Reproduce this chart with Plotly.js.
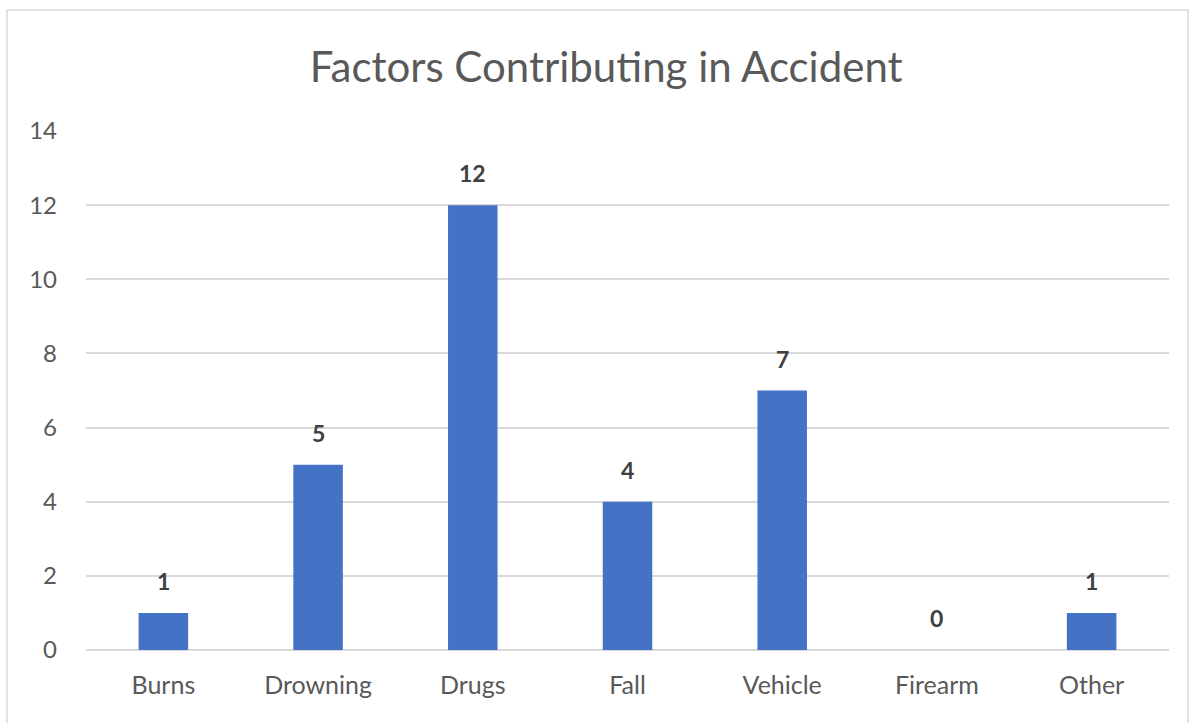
<!DOCTYPE html>
<html>
<head>
<meta charset="utf-8">
<script src="https://cdn.plot.ly/plotly-3.0.1.min.js"></script>
<style>
html,body{margin:0;padding:0;background:#fff;}
#chart{width:1198px;height:723px;}
</style>
</head>
<body>
<div id="chart"></div>
<script>
const categories = ["Burns", "Drowning", "Drugs", "Fall", "Vehicle", "Firearm", "Other"];
const counts = [1, 5, 12, 4, 7, 0, 1];
const chartTitle = "Factors Contributing in Accident";

const FONT = "Lato, 'Open Sans', sans-serif";

const trace = {
  type: "bar",
  x: categories,
  y: counts,
  marker: {color: "#4472C4"},
  hoverinfo: "x+y"
};

const annotations = categories.map((c, i) => ({
  x: c, y: counts[i], xref: "x", yref: "y",
  text: "<b>" + counts[i] + "</b>",
  showarrow: false, yanchor: "bottom", yshift: 16,
  font: {family: FONT, size: 23, color: "#404040"}
}));

const layout = {
  width: 1198, height: 723,
  margin: {l: 86, r: 29, t: 131, b: 73},
  paper_bgcolor: "#ffffff", plot_bgcolor: "#ffffff",
  title: {text: chartTitle, x: 0.506, xanchor: "center", y: 0.907, yanchor: "middle",
          font: {family: FONT, size: 42, color: "#595959"}},
  bargap: 0.68,
  showlegend: false,
  xaxis: {type: "category", showgrid: false, zeroline: false, showline: false,
          tickfont: {family: FONT, size: 25, color: "#595959"},
          ticks: "", ticklabelstandoff: 18},
  yaxis: {range: [0, 14], dtick: 2, showgrid: true, gridcolor: "#d9d9d9", gridwidth: 1.5,
          zeroline: true, zerolinecolor: "#d9d9d9", zerolinewidth: 1.5, showline: false,
          tickfont: {family: FONT, size: 24, color: "#595959"},
          ticks: "", ticklabelstandoff: 28},
  annotations: annotations,
  shapes: [{type: "rect", xref: "paper", yref: "paper",
            x0: (7 - 86) / 1083, x1: (1188 - 86) / 1083,
            y0: (650 - 760) / 519, y1: (650 - 10) / 519,
            line: {color: "#d9d9d9", width: 1.5}, fillcolor: "rgba(0,0,0,0)", layer: "below"}]
};

Plotly.newPlot("chart", [trace], layout, {displayModeBar: false, responsive: false});
</script>
</body>
</html>
